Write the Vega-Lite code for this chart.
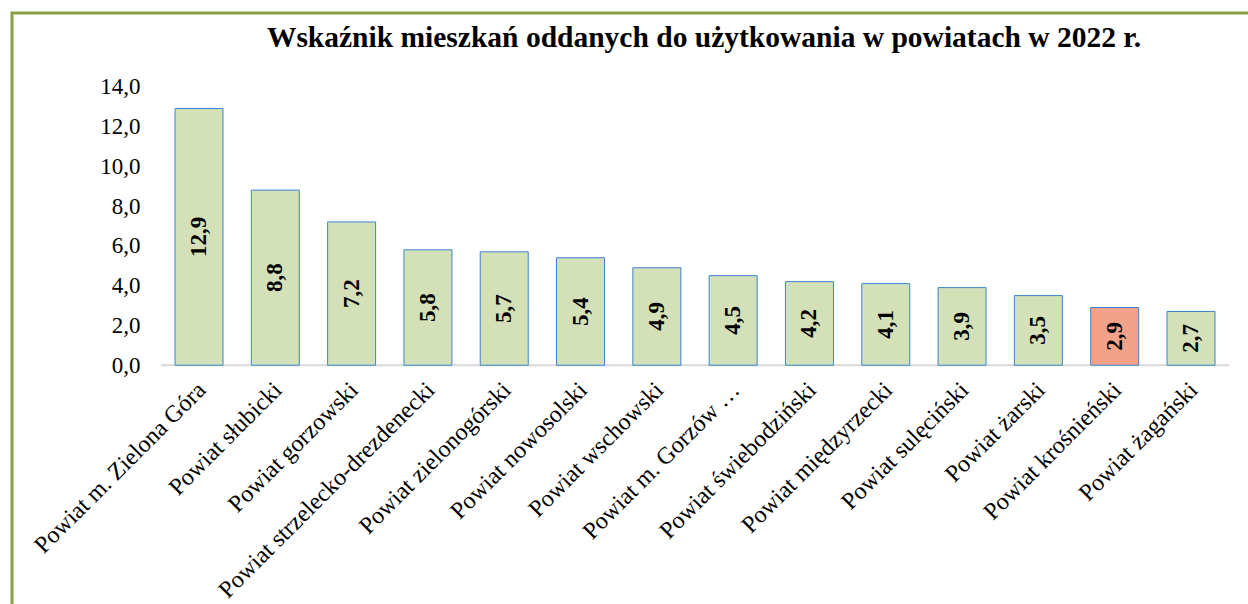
{
  "$schema": "https://vega.github.io/schema/vega-lite/v6.json",
  "width": 1250,
  "height": 597,
  "autosize": {"type": "none"},
  "padding": {"left": 12, "top": 13, "right": 0, "bottom": 0},
  "background": "white",
  "title": {
    "text": "Wskaźnik mieszkań oddanych do użytkowania w powiatach w 2022 r.",
    "font": "Liberation Serif",
    "fontSize": 29.5,
    "fontWeight": "bold",
    "color": "black",
    "frame": "group",
    "anchor": "middle",
    "offset": -40,
    "dx": 67
  },
  "config": {
    "view": {"stroke": "#8A9F48", "strokeWidth": 3},
    "locale": {"number": {"decimal": ",", "thousands": " ", "grouping": [3], "currency": ["", " zł"]}},
    "font": "Liberation Serif"
  },
  "datasets": {
    "powiaty": [
      {"powiat": "Powiat m. Zielona Góra", "wskaznik": 12.9, "grupa": "pozostałe"},
      {"powiat": "Powiat słubicki", "wskaznik": 8.8, "grupa": "pozostałe"},
      {"powiat": "Powiat gorzowski", "wskaznik": 7.2, "grupa": "pozostałe"},
      {"powiat": "Powiat strzelecko-drezdenecki", "wskaznik": 5.8, "grupa": "pozostałe"},
      {"powiat": "Powiat zielonogórski", "wskaznik": 5.7, "grupa": "pozostałe"},
      {"powiat": "Powiat nowosolski", "wskaznik": 5.4, "grupa": "pozostałe"},
      {"powiat": "Powiat wschowski", "wskaznik": 4.9, "grupa": "pozostałe"},
      {"powiat": "Powiat m. Gorzów …", "wskaznik": 4.5, "grupa": "pozostałe"},
      {"powiat": "Powiat świebodziński", "wskaznik": 4.2, "grupa": "pozostałe"},
      {"powiat": "Powiat międzyrzecki", "wskaznik": 4.1, "grupa": "pozostałe"},
      {"powiat": "Powiat sulęciński", "wskaznik": 3.9, "grupa": "pozostałe"},
      {"powiat": "Powiat żarski", "wskaznik": 3.5, "grupa": "pozostałe"},
      {"powiat": "Powiat krośnieński", "wskaznik": 2.9, "grupa": "wyróżniony"},
      {"powiat": "Powiat żagański", "wskaznik": 2.7, "grupa": "pozostałe"}
    ],
    "os": [
      {"od": "Powiat m. Zielona Góra", "do": "Powiat żagański"}
    ]
  },
  "layer": [
    {
      "data": {"name": "os"},
      "mark": {"type": "rule", "color": "#D9D9D9", "strokeWidth": 2},
      "encoding": {
        "x": {"field": "od", "type": "nominal", "bandPosition": -0.29},
        "x2": {"field": "do", "bandPosition": 1.29},
        "y": {"datum": 0, "type": "quantitative"}
      }
    },
    {
      "data": {"name": "powiaty"},
      "mark": {"type": "bar", "stroke": "#3A86CF", "strokeWidth": 1},
      "encoding": {
        "x": {
          "field": "powiat",
          "type": "nominal",
          "sort": null,
          "scale": {
            "domain": ["Powiat m. Zielona Góra", "Powiat słubicki", "Powiat gorzowski", "Powiat strzelecko-drezdenecki", "Powiat zielonogórski", "Powiat nowosolski", "Powiat wschowski", "Powiat m. Gorzów …", "Powiat świebodziński", "Powiat międzyrzecki", "Powiat sulęciński", "Powiat żarski", "Powiat krośnieński", "Powiat żagański"],
            "range": [163, 1203],
            "paddingInner": 0.371,
            "paddingOuter": 0
          },
          "axis": {
            "orient": "bottom",
            "labelAngle": -45,
            "offset": -240,
            "labelPadding": 16,
            "labelOffset": 3,
            "domain": false,
            "ticks": false,
            "title": null,
            "labelFont": "Liberation Serif",
            "labelFontSize": 24,
            "labelColor": "black",
            "labelLimit": 0
          }
        },
        "y": {
          "field": "wskaznik",
          "type": "quantitative",
          "scale": {"domain": [-12.3, 17.7], "nice": false, "zero": false},
          "axis": {
            "values": [0, 2, 4, 6, 8, 10, 12, 14],
            "format": ".1f",
            "grid": false,
            "domain": false,
            "ticks": false,
            "labelPadding": 0,
            "offset": -128,
            "title": null,
            "labelFont": "Liberation Serif",
            "labelFontSize": 23,
            "labelColor": "black"
          }
        },
        "color": {
          "field": "grupa",
          "type": "nominal",
          "scale": {"domain": ["pozostałe", "wyróżniony"], "range": ["#D4E0B8", "#F3A28A"]},
          "legend": null
        }
      }
    },
    {
      "data": {"name": "powiaty"},
      "mark": {"type": "text", "angle": 270, "fontWeight": "bold", "fontSize": 23, "font": "Liberation Serif", "align": "center", "baseline": "middle", "color": "black"},
      "encoding": {
        "x": {"field": "powiat", "type": "nominal", "sort": null},
        "y": {"field": "wskaznik", "type": "quantitative", "stack": "zero", "bandPosition": 0.5},
        "text": {"field": "wskaznik", "type": "quantitative", "format": ".1f"}
      }
    }
  ]
}
